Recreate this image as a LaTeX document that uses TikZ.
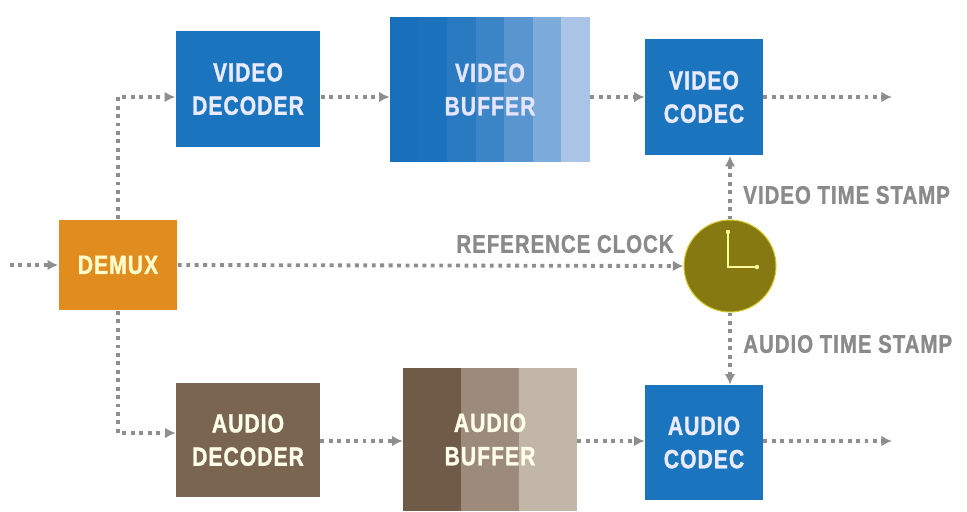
\documentclass[tikz,border=0pt]{standalone}
\usepackage{fontspec}
\newfontfamily\lblfont[FakeStretch=0.8,LetterSpace=4,FakeBold=1.2]{Liberation Sans}
\usetikzlibrary{arrows.meta,positioning,calc}

\definecolor{vblue}{HTML}{1A74BE}
\definecolor{vbufdark}{HTML}{1870BC}
\definecolor{vbuflight}{HTML}{A9C4E6}
\definecolor{abrown}{HTML}{7A6550}
\definecolor{abuf1}{HTML}{6F5B48}
\definecolor{abuf2}{HTML}{9C8B7B}
\definecolor{abuf3}{HTML}{C2B6A8}
\definecolor{dmxorange}{HTML}{E08C1E}
\definecolor{clkolive}{HTML}{867912}
\definecolor{lnkgray}{HTML}{8E8E8E}
\definecolor{lblgray}{HTML}{8A8A8A}

\begin{document}
\begin{tikzpicture}[x=0.02cm,y=-0.02cm,
	boxv/.style={fill=vblue,text=blue!8!white,font=\lblfont\bfseries\fontsize{15}{19}\selectfont,align=center,inner sep=0pt},
	boxa/.style={fill=abrown,text=white!92!yellow,font=\lblfont\bfseries\fontsize{15}{19}\selectfont,align=center,inner sep=0pt},
	buftxt/.style={text=white!90!blue,font=\lblfont\bfseries\fontsize{15}{19}\selectfont,align=center,inner sep=0pt},
	flow/.style={draw=lnkgray,line width=2.2pt,dash pattern=on 2.2pt off 2.6pt,-{Latex[length=6pt,width=6pt]}},
	lbl/.style={text=lblgray,font=\lblfont\bfseries\fontsize{14.5}{18}\selectfont,inner sep=0pt}]
	\useasboundingbox (0,0) rectangle (967,511);
	% stripes of the buffers
	\foreach \i in {0,...,6}{
		\pgfmathtruncatemacro\p{100-\i*\i*100/36}
		\fill[vbufdark!\p!vbuflight] (390+\i*28.57,17) rectangle ++(28.6,145);
	}
	\fill[abuf1] (403,368) rectangle ++(58,143);
	\fill[abuf2] (461,368) rectangle ++(58,143);
	\fill[abuf3] (519,368) rectangle ++(58,143);
	% blocks
	\node[boxv,fill=dmxorange,text=white!80!yellow,minimum width=2.38cm,minimum height=1.82cm] (demux) at (118,265) {DEMUX};
	\node[boxv,minimum width=2.9cm,minimum height=2.34cm] (vdec) at (248,89) {VIDEO\\DECODER};
	\node[buftxt,minimum width=4cm,minimum height=2.9cm] (vbuf) at (490,89.5) {VIDEO\\BUFFER};
	\node[boxv,minimum width=2.36cm,minimum height=2.34cm] (vcod) at (704,97) {VIDEO\\CODEC};
	\node[boxa,minimum width=2.88cm,minimum height=2.3cm] (adec) at (248,440) {AUDIO\\DECODER};
	\node[buftxt,text=white!92!yellow,minimum width=3.48cm,minimum height=2.86cm] (abuf) at (490,439.5) {AUDIO\\BUFFER};
	\node[boxv,minimum width=2.36cm,minimum height=2.3cm] (acod) at (704,442.5) {AUDIO\\CODEC};
	% clock
	\node[circle,fill=clkolive,draw=yellow!60!clkolive,line width=0.6pt,minimum size=1.84cm,inner sep=0pt] (clk) at (730,266) {};
	\coordinate (hand12) at (728,232);
	\coordinate (handc) at (728,267);
	\coordinate (hand3) at (757,267);
	\draw[yellow!40!white,line width=1.2pt] (hand12) -- (handc) -- (hand3);
	\fill[yellow!40!white] (hand12) circle (2.2) (hand3) circle (2.2);
	% rows and free ends
	\coordinate (rowv) at (0,97);
	\coordinate (rowa) at (0,441);
	\coordinate (in) at (10,265);
	\coordinate (vout) at (892,97);
	\coordinate (aout) at (892,441);
	% connectors
	\draw[flow] (in) -- (demux.west);
	\draw[flow] (demux.north) |- (vdec.west |- rowv);
	\draw[flow] (demux.south) |- ($(adec.west |- rowa)+(0,-8)$);
	\draw[flow] (vdec.east |- rowv) -- (vbuf.west |- rowv);
	\draw[flow] (vbuf.east |- rowv) -- (vcod.west |- rowv);
	\draw[flow] (vcod.east |- rowv) -- (vout);
	\draw[flow] (adec.east |- rowa) -- (abuf.west |- rowa);
	\draw[flow] (abuf.east |- rowa) -- (acod.west |- rowa);
	\draw[flow] (acod.east |- rowa) -- (aout);
	\draw[flow] (demux.east) -- (clk.west);
	\draw[flow] (clk.north) -- (clk.north |- vcod.south);
	\draw[flow] (clk.south) -- (clk.south |- acod.north);
	% labels
	\node[lbl] (reflbl) at (565,244) {REFERENCE CLOCK};
	\node[lbl,anchor=west] (vtslbl) at (743,195) {VIDEO TIME STAMP};
	\node[lbl,anchor=west] (atslbl) at (743,344) {AUDIO TIME STAMP};
\end{tikzpicture}
\end{document}
